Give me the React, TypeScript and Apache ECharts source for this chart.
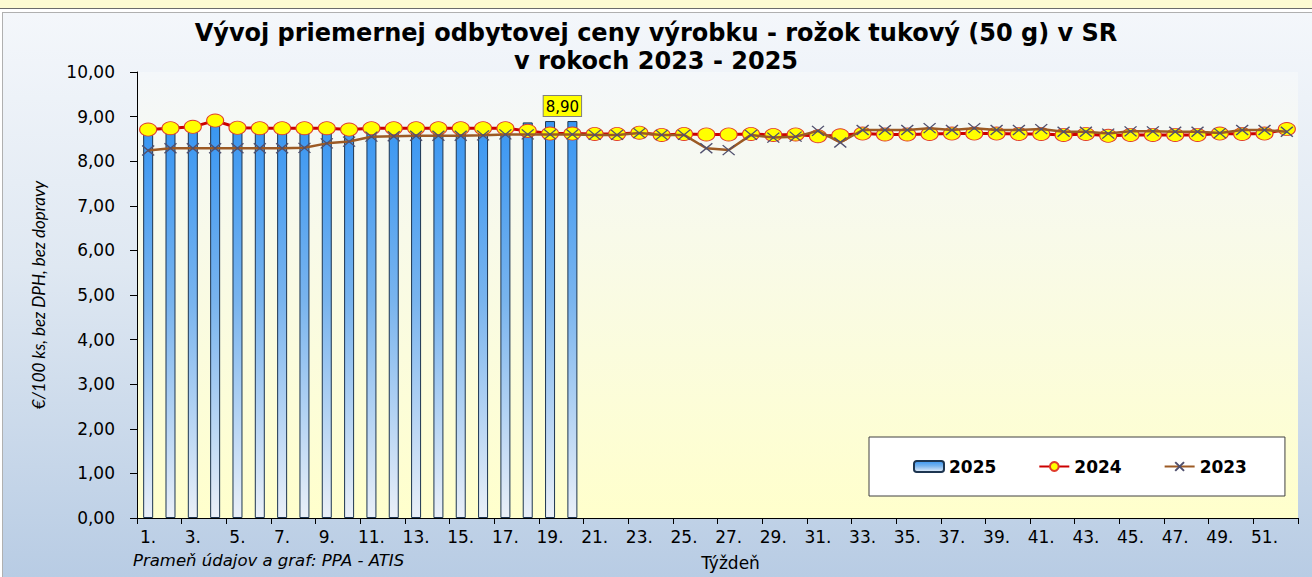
import React, { useEffect, useRef } from "react";
import * as echarts from "echarts";

const weeks = [
  "1.", "2.", "3.", "4.", "5.", "6.", "7.", "8.", "9.", "10.",
  "11.", "12.", "13.", "14.", "15.", "16.", "17.", "18.", "19.", "20.",
  "21.", "22.", "23.", "24.", "25.", "26.", "27.", "28.", "29.", "30.",
  "31.", "32.", "33.", "34.", "35.", "36.", "37.", "38.", "39.", "40.",
  "41.", "42.", "43.", "44.", "45.", "46.", "47.", "48.", "49.", "50.",
  "51.", "52.",
];

const price2025 = [
  8.70, 8.72, 8.75, 8.80, 8.85, 8.85, 8.85, 8.85, 8.85, 8.83,
  8.85, 8.85, 8.85, 8.85, 8.85, 8.85, 8.85, 8.87, 8.90, 8.90,
];

const price2024 = [
  8.71, 8.74, 8.77, 8.91, 8.75, 8.74, 8.74, 8.74, 8.74, 8.71,
  8.74, 8.74, 8.74, 8.74, 8.74, 8.74, 8.74, 8.68, 8.62, 8.62,
  8.61, 8.61, 8.64, 8.59, 8.61, 8.60, 8.60, 8.61, 8.59, 8.60,
  8.56, 8.58, 8.62, 8.60, 8.60, 8.61, 8.62, 8.62, 8.62, 8.61,
  8.61, 8.59, 8.61, 8.57, 8.59, 8.59, 8.59, 8.59, 8.62, 8.61,
  8.62, 8.72,
];

const price2023 = [
  8.24, 8.29, 8.29, 8.29, 8.29, 8.29, 8.29, 8.30, 8.40, 8.44,
  8.55, 8.56, 8.57, 8.57, 8.57, 8.58, 8.60, 8.60, 8.60, 8.60,
  8.59, 8.59, 8.63, 8.59, 8.59, 8.29, 8.25, 8.59, 8.53, 8.55,
  8.68, 8.42, 8.70, 8.70, 8.70, 8.74, 8.70, 8.74, 8.70, 8.70,
  8.72, 8.66, 8.66, 8.62, 8.67, 8.67, 8.66, 8.66, 8.63, 8.70,
  8.70, 8.66,
];

const yTicks = { min: 0, max: 10, interval: 1 };
const labelIndex = 19;

const WIDE = "'DejaVu Sans', Verdana, sans-serif";
const NARROW = "Lato, 'Open Sans', sans-serif";
const fmt = (v: number) => v.toFixed(2).replace(".", ",");

export default function App() {
  const ref = useRef<HTMLDivElement>(null);

  useEffect(() => {
    if (!ref.current) return;
    const chart = echarts.init(ref.current, undefined, { renderer: "svg" });

    const barData = price2025.map((v, i) =>
      i === labelIndex
        ? {
            value: v,
            label: {
              show: true,
              position: "top",
              distance: 5,
              offset: [-10, 0],
              formatter: (p: any) => fmt(p.value),
              backgroundColor: "#ffff00",
              borderColor: "#808080",
              borderWidth: 1,
              padding: [3, 2, 2, 2],
              color: "#000",
              fontSize: 15,
              fontFamily: WIDE,
            },
          }
        : v
    );

    chart.setOption({
      animation: false,
      backgroundColor: "transparent",
      textStyle: { fontFamily: WIDE },
      title: {
        text: "Vývoj priemernej odbytovej ceny výrobku - rožok tukový (50 g) v SR\nv rokoch 2023 - 2025",
        left: "center",
        top: 19,
        padding: [0, 0, 0, 20],
        textStyle: {
          fontFamily: WIDE,
          fontSize: 24,
          fontWeight: "bold",
          color: "#000",
          lineHeight: 28,
        },
      },
      grid: {
        left: 137,
        right: 14,
        top: 72,
        bottom: 59,
        show: true,
        borderWidth: 0,
        backgroundColor: new echarts.graphic.LinearGradient(0, 0, 0, 1, [
          { offset: 0, color: "#f4f7fa" },
          { offset: 1, color: "#ffffcc" },
        ]),
      },
      legend: {
        left: 869,
        top: 437,
        orient: "horizontal",
        backgroundColor: "#ffffff",
        borderColor: "#404040",
        borderWidth: 1,
        borderRadius: 0,
        padding: [21, 38, 21, 44],
        itemGap: 42,
        itemWidth: 30,
        itemHeight: 11,
        textStyle: { fontFamily: WIDE, fontSize: 17, fontWeight: "bold", color: "#000" },
        data: ["2025", "2024", "2023"],
      },
      xAxis: {
        type: "category",
        data: weeks,
        boundaryGap: true,
        name: "Týždeň",
        nameLocation: "middle",
        nameGap: 36,
        nameTextStyle: { fontFamily: WIDE, fontSize: 17, color: "#000", padding: [0, 0, 0, 26] },
        axisLine: { show: true, lineStyle: { color: "#000", width: 1 } },
        axisTick: { show: true, interval: 1, length: 6, lineStyle: { color: "#000" } },
        axisLabel: { interval: 1, fontSize: 17, color: "#000", margin: 10, fontFamily: WIDE },
        splitLine: { show: false },
      },
      yAxis: {
        type: "value",
        min: yTicks.min,
        max: yTicks.max,
        interval: yTicks.interval,
        name: "€/100 ks, bez DPH, bez dopravy",
        nameLocation: "middle",
        nameGap: 90,
        nameRotate: 90,
        nameTextStyle: { fontFamily: NARROW, fontSize: 17, fontStyle: "italic", color: "#000" },
        axisLine: { show: true, lineStyle: { color: "#000", width: 1 } },
        axisTick: { show: true, length: 7, lineStyle: { color: "#000" } },
        axisLabel: { fontSize: 17, color: "#000", margin: 22, fontFamily: WIDE, formatter: fmt },
        splitLine: { show: false },
      },
      series: [
        {
          name: "2025",
          type: "bar",
          data: barData,
          barWidth: 10,
          z: 2,
          itemStyle: {
            color: new echarts.graphic.LinearGradient(0, 0, 0, 1, [
              { offset: 0, color: "#3996f2" },
              { offset: 0.45, color: "#79b4ee" },
              { offset: 1, color: "#e9eff8" },
            ]),
            borderColor: "#1d3550",
            borderWidth: 1,
          },
        },
        {
          name: "2024",
          type: "line",
          data: price2024,
          z: 3,
          symbol: "circle",
          symbolSize: [17, 13],
          lineStyle: { color: "#cc0000", width: 3 },
          itemStyle: { color: "#ffff00", borderColor: "#e03c2c", borderWidth: 1 },
        },
        {
          name: "2023",
          type: "line",
          data: price2023,
          z: 4,
          symbol: "path://M0 0L10 10M10 0L0 10",
          symbolSize: [12, 10],
          lineStyle: { color: "#9c5a24", width: 2.5 },
          itemStyle: { color: "#50506e", borderColor: "#50506e", borderWidth: 1.3 },
        },
      ],
      graphic: [
        {
          type: "text",
          left: 133,
          top: 552,
          style: {
            text: "Prameň údajov a graf: PPA - ATIS",
            font: `italic 16.5px ${WIDE}`,
            fill: "#000",
          },
        },
      ],
    });

    return () => chart.dispose();
  }, []);

  return (
    <div
      style={{
        position: "fixed",
        left: 0,
        top: 0,
        width: 1312,
        height: 577,
        overflow: "hidden",
        background: "#ffffff",
      }}
    >
      <div
        style={{
          position: "absolute",
          left: 0,
          top: 0,
          width: 1312,
          height: 9,
          background: "#fdfbd2",
          borderBottom: "1px solid #6b6b6b",
          boxSizing: "border-box",
        }}
      />
      <div
        style={{
          position: "absolute",
          left: 2,
          top: 12,
          width: 1310,
          height: 565,
          boxSizing: "border-box",
          borderTop: "1px solid #b0b0b0",
          borderLeft: "1px solid #b0b0b0",
          background: "linear-gradient(to bottom, #f4f7fb 0%, #dfe8f2 45%, #b8cce4 100%)",
        }}
      />
      <div
        ref={ref}
        style={{ position: "absolute", left: 0, top: 0, width: 1312, height: 577 }}
      />
    </div>
  );
}
